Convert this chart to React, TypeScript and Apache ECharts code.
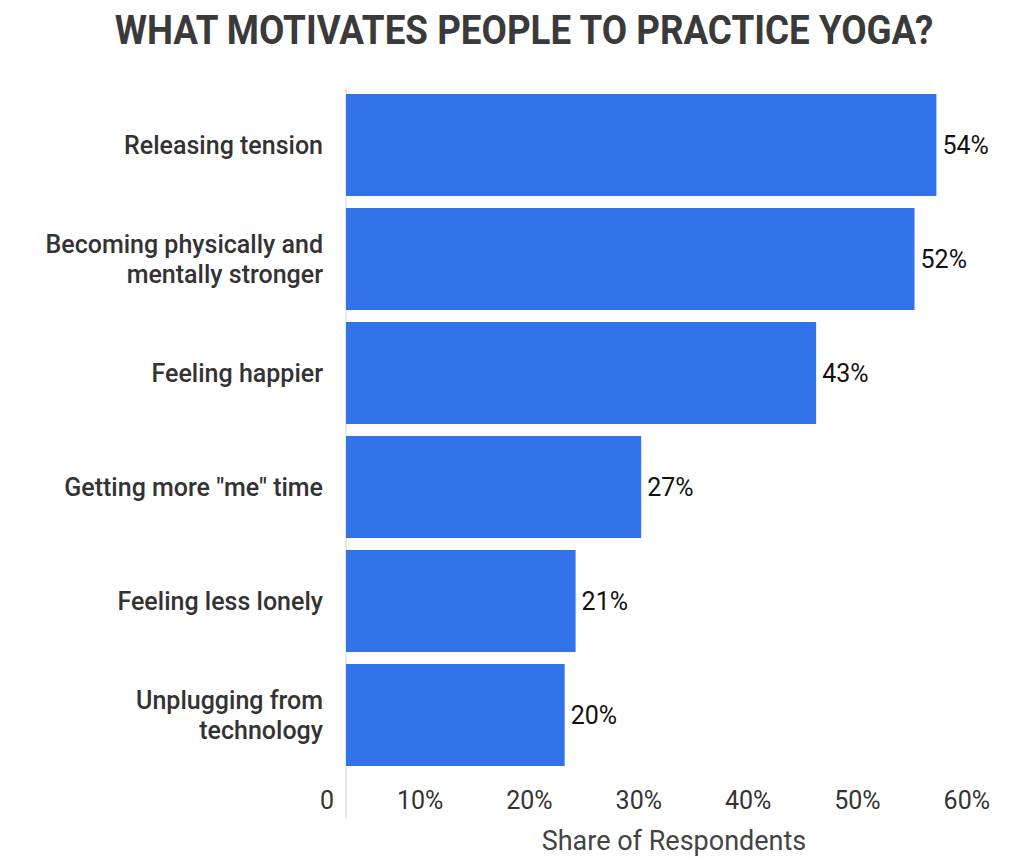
import React, { useEffect, useRef } from "react";
import * as echarts from "echarts";

const categories = [
  "Releasing tension",
  "Becoming physically and\nmentally stronger",
  "Feeling happier",
  'Getting more "me" time',
  "Feeling less lonely",
  "Unplugging from\ntechnology",
];
const values = [54, 52, 43, 27, 21, 20];
const axisTicks = [0, 10, 20, 30, 40, 50, 60];
const titleText = "WHAT MOTIVATES PEOPLE TO PRACTICE YOGA?";
const axisTitle = "Share of Respondents";

export default function App() {
  const ref = useRef<HTMLDivElement>(null);
  useEffect(() => {
    document.body.style.margin = "0";
    if (!ref.current) return;
    const chart = echarts.init(ref.current, null, { renderer: "svg" });
    chart.setOption({
      animation: false,
      backgroundColor: "#ffffff",
      textStyle: { fontFamily: "Roboto" },
      graphic: [
        {
          type: "text",
          x: 524,
          y: 30,
          scaleX: 0.92,
          style: {
            text: titleText,
            fontFamily: "Roboto",
            fontWeight: 700,
            fontSize: 40,
            fill: "#3a3a3a",
            align: "center",
            verticalAlign: "middle",
          },
        },
      ],
      grid: { left: 346, right: 22, top: 88, bottom: 85 },
      xAxis: {
        type: "value",
        min: axisTicks[0],
        max: axisTicks[axisTicks.length - 1],
        interval: 10,
        splitLine: { show: false },
        axisLine: { show: false },
        axisTick: {
          show: true,
          customValues: [0],
          length: 46,
          lineStyle: { color: "#e2e2e2", width: 1.5 },
        },
        axisLabel: {
          formatter: (v: number) => (v === 0 ? "0" : v + "%"),
          align: "right",
          padding: [0, 12, 0, 0],
          margin: 16,
          fontSize: 25,
          color: "#333333",
          fontFamily: "Roboto",
        },
        name: axisTitle,
        nameLocation: "middle",
        nameGap: 55,
        nameTextStyle: { fontSize: 27, color: "#444444", fontFamily: "Roboto" },
      },
      yAxis: {
        type: "category",
        data: categories,
        inverse: true,
        axisLine: { show: true, lineStyle: { color: "#e2e2e2", width: 1.5 } },
        axisTick: { show: false },
        axisLabel: {
          fontSize: 25,
          fontWeight: 500,
          color: "#333333",
          margin: 23,
          lineHeight: 30,
          align: "right",
          fontFamily: "Roboto",
        },
      },
      series: [
        {
          type: "bar",
          data: values,
          barCategoryGap: "10.5%",
          itemStyle: { color: "#3273e9" },
          label: {
            show: true,
            position: "right",
            distance: 6,
            formatter: "{c}%",
            fontSize: 25,
            color: "#111111",
            fontFamily: "Roboto",
          },
        },
      ],
    });
    return () => chart.dispose();
  }, []);
  return <div ref={ref} style={{ width: 1024, height: 859 }} />;
}
